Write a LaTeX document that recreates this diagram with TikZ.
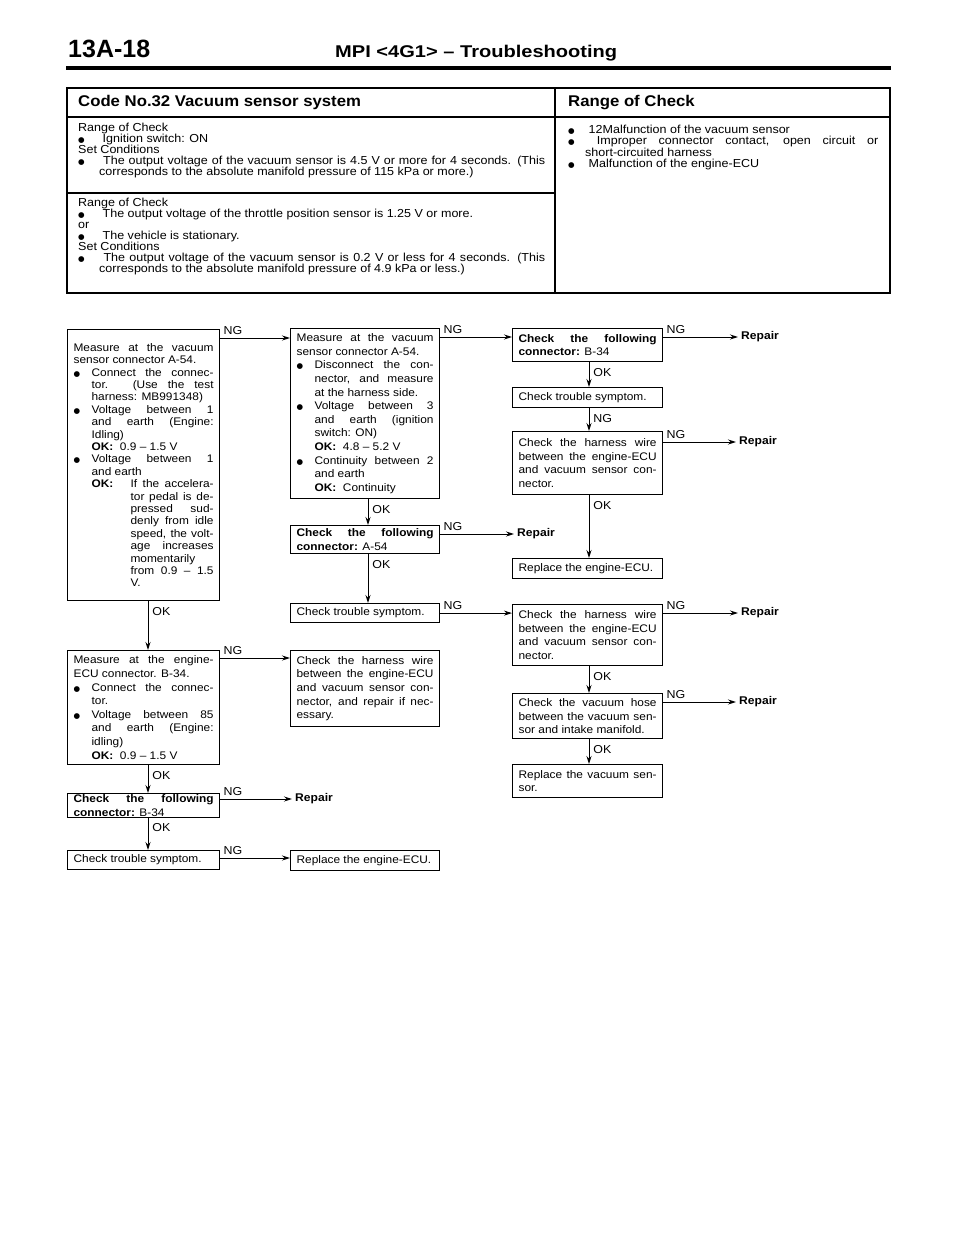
\documentclass[tikz,border=0pt]{standalone}
\usepackage{fontspec}
\setmainfont{Liberation Sans}[FakeStretch=1.08]
\newfontfamily\pgnofont{Liberation Sans}
\newfontfamily\ttlfont{Liberation Sans}[FakeStretch=1.18]
\newfontfamily\dotfont{DejaVu Sans}
\usetikzlibrary{arrows.meta}

\setlength{\parindent}{0pt}
\tolerance=10000 \hbadness=10000
\newcommand{\tabfont}{\fontsize{11.6}{11.1}\selectfont}
\newcommand{\flowfont}{\fontsize{11}{13.6}\selectfont}
\newcommand{\lblfont}{\fontsize{11.5}{13}\selectfont}
\newcommand{\headfont}{\fontsize{15.5}{16}\selectfont\bfseries}
\newcommand{\dotsign}{{\dotfont\fontsize{7.5}{7.5}\selectfont ●}}
\newlength{\bulind}
% bullet paragraph with hanging indent
\newcommand{\bul}[1][18pt]{\par\setlength{\bulind}{#1}\noindent\hangindent=\bulind\hangafter=1\makebox[\bulind][l]{\dotsign}}
% "OK:" paragraph, text hanging at #1, OK: starting at #2
\newcommand{\okpar}[2]{\par\noindent\hangindent=#1\hangafter=1\hspace*{#2}\makebox[\dimexpr#1-#2\relax][l]{\textbf{OK:}}}

\begin{document}
\begin{tikzpicture}[x=1pt, y=-1pt, >={Stealth[length=8pt, width=5pt]},
  chk/.style={draw, line width=1.2pt, anchor=north west, inner xsep=6pt, inner ysep=1pt, align=justify, font=\flowfont},
  fix/.style={anchor=west, inner sep=3pt, font=\fontsize{11.2}{13}\selectfont\bfseries},
  flow/.style={->, line width=0.9pt},
  nglbl/.style={pos=0, anchor=south west, inner sep=1pt, xshift=2pt, yshift=2pt, font=\lblfont},
  oklbl/.style={pos=0, anchor=west, inner sep=1pt, xshift=3pt, yshift=-10pt, font=\lblfont}]
  \fill[white] (0,0) rectangle (960,1239);
  \useasboundingbox (0,0) rectangle (960,1239);

  % page head
  \node[anchor=base west, inner sep=0, font=\pgnofont\fontsize{25}{25}\selectfont\bfseries] (pgno) at (68,57) {13A-18};
  \node[anchor=base west, inner sep=0, font=\ttlfont\fontsize{17}{17}\selectfont\bfseries] (ttl) at (335,57) {MPI <4G1> – Troubleshooting};
  \draw[line width=3.5pt] (66,68) -- (891,68);

  % code table
  \draw[line width=1.4pt] (67,88) rectangle (890,293);
  \draw[line width=1.2pt] (67,117) -- (890,117) (555,88) -- (555,293) (67,193) -- (555,193);
  \node[anchor=base west, inner sep=0, font=\headfont] (codehd) at (78,106.5) {Code No.32 Vacuum sensor system};
  \node[anchor=base west, inner sep=0, font=\headfont] (rangehd) at (568,106.5) {Range of Check};
  \node[anchor=north west, inner sep=0, text width=467pt, align=justify, font=\tabfont] (cond1) at (78,122.5) {Range of Check
    \bul[21pt] Ignition switch: ON
    \par Set Conditions
    \bul[21pt] The output voltage of the vacuum sensor is 4.5 V or more for 4 seconds. (This\linebreak corresponds to the absolute manifold pressure of 115 kPa or more.)\par};
  \node[anchor=north west, inner sep=0, text width=467pt, align=justify, font=\tabfont] (cond2) at (78,197.5) {Range of Check
    \bul[21pt] The output voltage of the throttle position sensor is 1.25 V or more.
    \par or
    \bul[21pt] The vehicle is stationary.
    \par Set Conditions
    \bul[21pt] The output voltage of the vacuum sensor is 0.2 V or less for 4 seconds. (This\linebreak corresponds to the absolute manifold pressure of 4.9 kPa or less.)\par};
  \node[anchor=north west, inner sep=0, text width=310pt, align=justify, font=\tabfont] (causes) at (568,122.5) {\bul[17pt] 12Malfunction of the vacuum sensor
    \bul[17pt] Improper connector contact, open circuit or\linebreak short-circuited harness
    \bul[17pt] Malfunction of the engine-ECU\par};

  % left column
  \node[chk, text width=140pt, minimum height=271pt, font=\fontsize{11}{12.4}\selectfont] (A1) at (67,329) {Measure at the vacuum\linebreak sensor connector A-54.
    \bul Connect the connec-\linebreak tor. (Use the test\linebreak harness: MB991348)
    \bul Voltage between 1\linebreak and earth (Engine:\linebreak Idling)\newline\textbf{OK:}\ \ 0.9 – 1.5 V
    \bul Voltage between 1\linebreak and earth
    \okpar{57pt}{18pt}If the accelera-\linebreak tor pedal is de-\linebreak pressed sud-\linebreak denly from idle\linebreak speed, the volt-\linebreak age increases\linebreak momentarily\newline from 0.9 – 1.5\linebreak V.\par};
  \node[chk, text width=140pt, minimum height=114pt] (A2) at (67,650) {Measure at the engine-\linebreak ECU connector. B-34.
    \bul Connect the connec-\linebreak tor.
    \bul Voltage between 85\linebreak and earth (Engine:\linebreak idling)\newline\textbf{OK:}\ \ 0.9 – 1.5 V\par};
  \node[chk, text width=140pt, minimum height=23pt] (A3) at (67,793) {\textbf{Check the following}\linebreak \textbf{connector:} B-34\par};
  \node[chk, text width=140pt, minimum height=19pt] (A4) at (67,850) {Check trouble symptom.\par};

  % middle column
  \node[chk, text width=137pt, minimum height=170pt] (B1) at (290,328) {Measure at the vacuum\linebreak sensor connector A-54.
    \bul Disconnect the con-\linebreak nector, and measure\linebreak at the harness side.
    \bul Voltage between 3\linebreak and earth (ignition\linebreak switch: ON)\newline\textbf{OK:}\ \ 4.8 – 5.2 V
    \bul Continuity between 2\linebreak and earth\newline\textbf{OK:}\ \ Continuity\par};
  \node[chk, text width=137pt, minimum height=28pt] (B2) at (290,525) {\textbf{Check the following}\linebreak \textbf{connector:} A-54\par};
  \node[chk, text width=137pt, minimum height=19pt] (B3) at (290,603) {Check trouble symptom.\par};
  \node[chk, text width=137pt, minimum height=76pt] (B5) at (290,650) {Check the harness wire\linebreak between the engine-ECU\linebreak and vacuum sensor con-\linebreak nector, and repair if nec-\linebreak essary.\par};
  \node[chk, text width=137pt, minimum height=20pt] (B6) at (290,850) {Replace the engine-ECU.\par};

  % right column
  \node[chk, text width=138pt, minimum height=33pt] (C1) at (512,328) {\textbf{Check the following}\linebreak \textbf{connector:} B-34\par};
  \node[chk, text width=138pt, minimum height=20pt] (C2) at (512,387) {Check trouble symptom.\par};
  \node[chk, text width=138pt, minimum height=63pt] (C3) at (512,431) {Check the harness wire\linebreak between the engine-ECU\linebreak and vacuum sensor con-\linebreak nector.\par};
  \node[chk, text width=138pt, minimum height=20pt] (C5) at (512,558) {Replace the engine-ECU.\par};
  \node[chk, text width=138pt, minimum height=61pt] (C4) at (512,604) {Check the harness wire\linebreak between the engine-ECU\linebreak and vacuum sensor con-\linebreak nector.\par};
  \node[chk, text width=138pt, minimum height=45pt] (C6) at (512,693) {Check the vacuum hose\linebreak between the vacuum sen-\linebreak sor and intake manifold.\par};
  \node[chk, text width=138pt, minimum height=33pt] (C7) at (512,764) {Replace the vacuum sen-\linebreak sor.\par};

  % repair ends
  \node[fix] (R1) at (738,337) {Repair};
  \node[fix] (R2) at (514,534) {Repair};
  \node[fix] (R3) at (736,442) {Repair};
  \node[fix] (R4) at (292,799) {Repair};
  \node[fix] (R5) at (738,613) {Repair};
  \node[fix] (R6) at (736,702) {Repair};

  % OK lines
  \coordinate (col1) at (148,0);
  \coordinate (col2) at (368,0);
  \coordinate (col3) at (589,0);
  \draw[flow] (A1.south -| col1) -- (A2.north -| col1) node[oklbl] {OK};
  \draw[flow] (A2.south -| col1) -- (A3.north -| col1) node[oklbl] {OK};
  \draw[flow] (A3.south -| col1) -- (A4.north -| col1) node[oklbl] {OK};
  \draw[flow] (B1.south -| col2) -- (B2.north -| col2) node[oklbl] {OK};
  \draw[flow] (B2.south -| col2) -- (B3.north -| col2) node[oklbl] {OK};
  \draw[flow] (C1.south -| col3) -- (C2.north -| col3) node[oklbl] {OK};
  \draw[flow] (C2.south -| col3) -- (C3.north -| col3) node[oklbl] {NG};
  \draw[flow] (C3.south -| col3) -- (C5.north -| col3) node[oklbl] {OK};
  \draw[flow] (C4.south -| col3) -- (C6.north -| col3) node[oklbl] {OK};
  \draw[flow] (C6.south -| col3) -- (C7.north -| col3) node[oklbl] {OK};

  % NG lines
  \coordinate (a1ng) at ([yshift=-9pt]A1.north east);
  \draw[flow] (a1ng) -- (a1ng -| B1.west) node[nglbl] {NG};
  \coordinate (a2ng) at ([yshift=-8pt]A2.north east);
  \draw[flow] (a2ng) -- (a2ng -| B5.west) node[nglbl] {NG};
  \draw[flow] (A3.east |- R4.west) -- (R4.west) node[nglbl] {NG};
  \coordinate (a4ng) at ([yshift=-8pt]A4.north east);
  \draw[flow] (a4ng) -- (a4ng -| B6.west) node[nglbl] {NG};
  \coordinate (b1ng) at ([yshift=-9pt]B1.north east);
  \draw[flow] (b1ng) -- (b1ng -| C1.west) node[nglbl] {NG};
  \draw[flow] (B2.east |- R2.west) -- (R2.west) node[nglbl] {NG};
  \draw[flow] (B3.east) -- (B3.east -| C4.west) node[nglbl] {NG};
  \draw[flow] (C1.east |- R1.west) -- (R1.west) node[nglbl] {NG};
  \draw[flow] (C3.east |- R3.west) -- (R3.west) node[nglbl] {NG};
  \draw[flow] (C4.east |- R5.west) -- (R5.west) node[nglbl] {NG};
  \draw[flow] (C6.east |- R6.west) -- (R6.west) node[nglbl] {NG};
\end{tikzpicture}
\end{document}
